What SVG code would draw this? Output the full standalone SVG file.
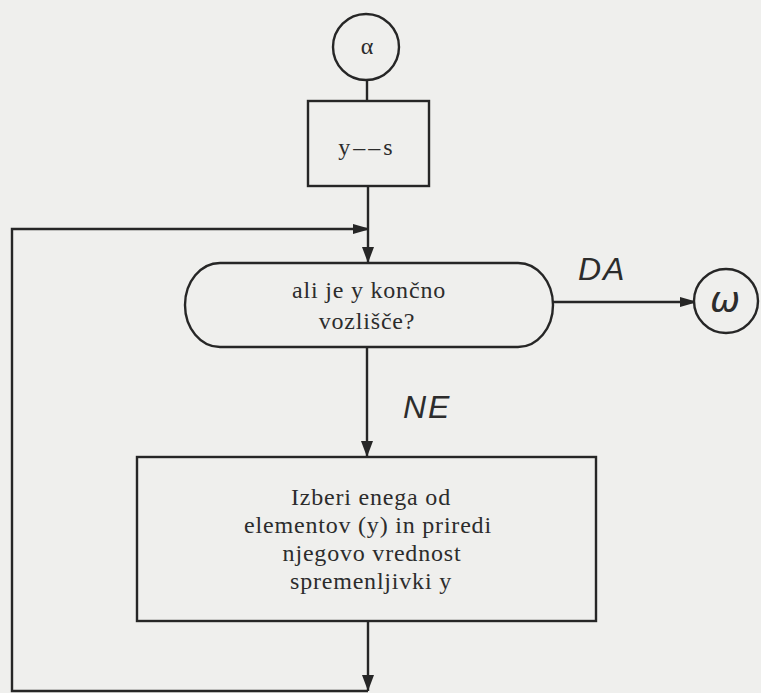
<svg xmlns="http://www.w3.org/2000/svg" width="761" height="693" viewBox="0 0 761 693">
  <defs>
    <style>
      .ln { fill: none; stroke: #262626; stroke-width: 2.4; }
      .shape { fill: none; stroke: #262626; stroke-width: 2.4; }
      .txt { font-family: "Liberation Serif", "Times New Roman", serif; font-size: 24px; letter-spacing: 0.8px; fill: #2c2c2c; text-anchor: middle; }
      .lbl { font-family: "Liberation Sans", Arial, sans-serif; font-style: italic; font-size: 32px; letter-spacing: 2px; fill: #2c2c2c; }
    </style>
    <marker id="arrow" viewBox="0 0 16 12" refX="16" refY="6" markerWidth="16" markerHeight="12" markerUnits="userSpaceOnUse" orient="auto">
      <path d="M0,0 L16,6 L0,12 Z" fill="#262626"/>
    </marker>
    <marker id="arrowFat" viewBox="0 0 14 12" refX="14" refY="6" markerWidth="14" markerHeight="12" markerUnits="userSpaceOnUse" orient="auto">
      <path d="M0,1 L14,5 L14,7 L0,11 Z" fill="#262626"/>
    </marker>
  </defs>
  <rect x="0" y="0" width="761" height="693" fill="#efefed"/>

  <g id="connectors">
    <line class="ln" x1="367" y1="80" x2="367" y2="101"/>
    <line class="ln" x1="368" y1="186" x2="368" y2="263" marker-end="url(#arrow)"/>
    <polyline class="ln" points="368,621 368,691" marker-end="url(#arrow)"/>
    <polyline class="ln" points="368,691 12,691 12,229 367,229" marker-end="url(#arrowFat)"/>
    <line class="ln" x1="367" y1="347" x2="367" y2="457" marker-end="url(#arrow)"/>
    <line class="ln" x1="553" y1="302" x2="694" y2="302" marker-end="url(#arrowFat)"/>
    <text class="lbl" x="578" y="280">DA</text>
    <text class="lbl" x="403" y="418">NE</text>
  </g>

  <g id="start">
    <circle class="shape" cx="366" cy="47" r="33"/>
    <text class="txt" x="367" y="54" style="letter-spacing:0">α</text>
  </g>

  <g id="assign">
    <rect class="shape" x="308" y="101" width="121" height="85"/>
    <text class="txt" x="367" y="155" style="letter-spacing:3px">y––s</text>
  </g>

  <g id="decision">
    <path class="shape" d="M220,263 H518 A35,42 0 0 1 518,347 H220 A35,42 0 0 1 220,263 Z"/>
    <text class="txt" x="369" y="298">ali je y končno</text>
    <text class="txt" x="367" y="329">vozlišče?</text>
  </g>

  <g id="end">
    <circle class="shape" cx="726" cy="301" r="32"/>
    <text x="725" y="312" style="font-family:'DejaVu Sans','Liberation Sans',sans-serif;font-size:36px;font-style:italic;fill:#2c2c2c;text-anchor:middle">ω</text>
  </g>

  <g id="process">
    <rect class="shape" x="137" y="457" width="459" height="164"/>
    <text class="txt" x="371" y="505">Izberi enega od</text>
    <text class="txt" x="368" y="533">elementov (y) in priredi</text>
    <text class="txt" x="372" y="561">njegovo vrednost</text>
    <text class="txt" x="371" y="589">spremenljivki y</text>
  </g>
</svg>
